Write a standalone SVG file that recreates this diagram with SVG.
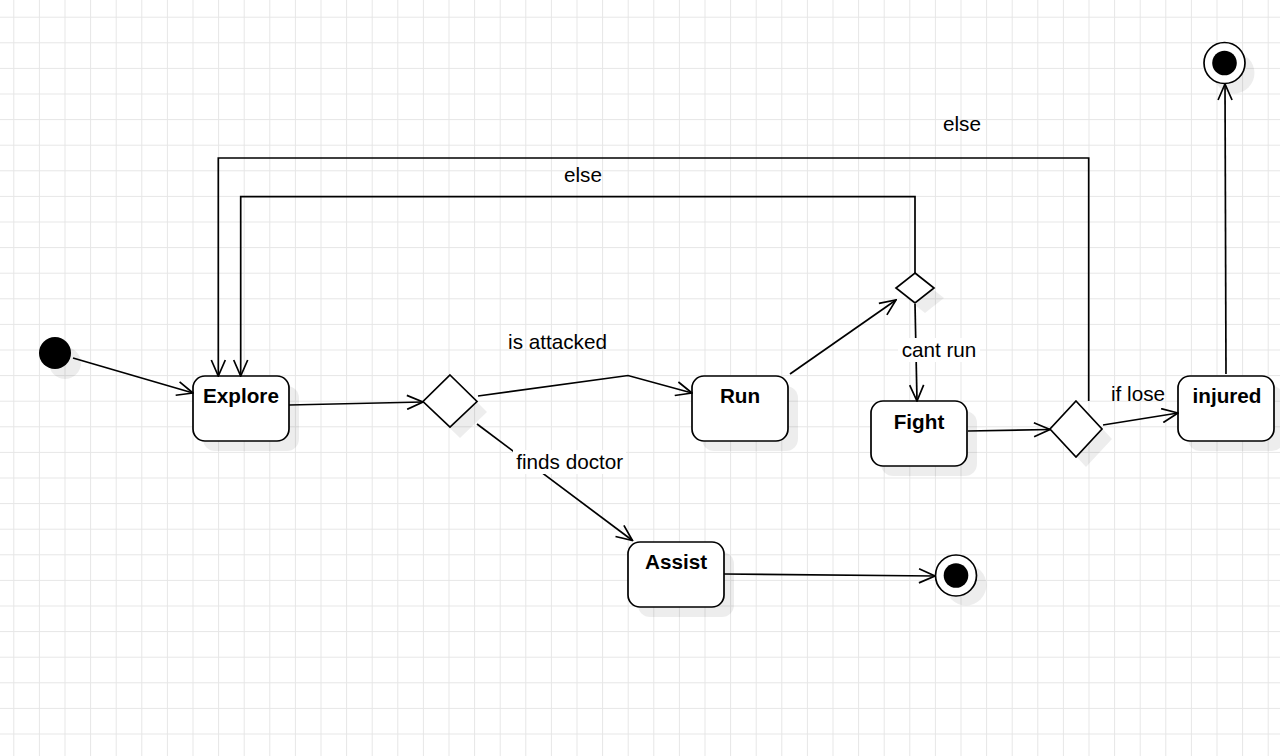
<svg xmlns="http://www.w3.org/2000/svg" width="1280" height="756" viewBox="0 0 1280 756">
<defs>
<pattern id="grid" patternUnits="userSpaceOnUse" x="13.3" y="16.7" width="25.6" height="25.6">
<path d="M0.5,0 V25.6 M0,0.5 H25.6" fill="none" stroke="#e6e6e6" stroke-width="1"/>
</pattern>
<marker id="arr" viewBox="0 0 18 16" refX="17" refY="8" markerWidth="18" markerHeight="16" markerUnits="userSpaceOnUse" orient="auto">
<path d="M1,1 L17,8 L1,15" fill="none" stroke="#000" stroke-width="1.7"/>
</marker>
</defs>
<style>
.state{fill:#fff;stroke:#000;stroke-width:1.7}
.shadow{fill:#000;fill-opacity:0.07;stroke:none}
.edge{fill:none;stroke:#000;stroke-width:1.7;marker-end:url(#arr)}
.t{font-family:"Liberation Sans",Arial,sans-serif;font-size:20.7px;fill:#000;text-anchor:middle}
.b{font-weight:bold}
</style>
<rect width="1280" height="756" fill="#fff"/>
<rect width="1280" height="756" fill="url(#grid)"/>

<g id="initial">
<circle class="shadow" cx="65" cy="363" r="16"/>
<circle cx="55" cy="353" r="16" fill="#000"/>
</g>
<g id="explore">
<rect class="shadow" x="203" y="386" width="96" height="65" rx="12"/>
<rect class="state" x="193" y="376" width="96" height="65" rx="12"/>
<text class="t b" x="241" y="403">Explore</text>
</g>
<g id="decision1">
<polygon class="shadow" points="460,385 487,412 460,438 433,412"/>
<polygon class="state" points="450,375 477,401.5 450,427 423,401.5"/>
</g>
<g id="run">
<rect class="shadow" x="702" y="386" width="96" height="65" rx="12"/>
<rect class="state" x="692" y="376" width="96" height="65" rx="12"/>
<text class="t b" x="740" y="403">Run</text>
</g>
<g id="decision-run">
<polygon class="shadow" points="925,283 944,298 925,313 906,298"/>
<polygon class="state" points="915,273 934,288 915,303 896,288"/>
</g>
<g id="fight">
<rect class="shadow" x="881" y="411" width="96" height="65" rx="12"/>
<rect class="state" x="871" y="401" width="96" height="65" rx="12"/>
<text class="t b" x="919" y="428.5">Fight</text>
</g>
<g id="decision2">
<polygon class="shadow" points="1086,411 1112,439 1086,467 1060,439"/>
<polygon class="state" points="1076,401 1102,429 1076,457 1050,429"/>
</g>
<g id="injured">
<rect class="shadow" x="1188" y="386" width="96" height="65" rx="12"/>
<rect class="state" x="1178" y="376" width="96" height="65" rx="12"/>
<text class="t b" x="1227" y="403">injured</text>
</g>
<g id="assist">
<rect class="shadow" x="638" y="552" width="96" height="65" rx="12"/>
<rect class="state" x="628" y="542" width="96" height="65" rx="12"/>
<text class="t b" x="676" y="569">Assist</text>
</g>
<g id="final-top">
<circle class="shadow" cx="1234" cy="73" r="20.5"/>
<circle class="state" cx="1224.5" cy="63" r="20.5"/>
<circle cx="1224.5" cy="63" r="12.3" fill="#000"/>
</g>
<g id="final-bottom">
<circle class="shadow" cx="966" cy="585" r="20.5"/>
<circle class="state" cx="956" cy="575.5" r="20.5"/>
<circle cx="956" cy="575.5" r="12.3" fill="#000"/>
</g>

<g id="connectors">
<path class="edge" d="M73,358 L193,393"/>
<path class="edge" d="M289,405 L423,402"/>
<path class="edge" d="M478,396 L628,375.5 L692,393"/>
<path class="edge" d="M477,424 L632.5,540.5"/>
<path class="edge" d="M790,374 L896,300"/>
<path class="edge" d="M915,304 L917,401"/>
<path class="edge" d="M915,273 V196.7 H240.7 V376"/>
<path class="edge" d="M1088.7,401 V158 H218.3 V376"/>
<path class="edge" d="M968,431 L1050,429.5"/>
<path class="edge" d="M1103,425 L1178,413"/>
<path class="edge" d="M1226,374 L1225,84"/>
<path class="edge" d="M724,574 L935,576"/>
</g>

<g id="labels">
<text class="t" x="557.5" y="349">is attacked</text>
<rect x="513" y="450" width="113" height="24" fill="#fff"/>
<text class="t" x="569.7" y="469">finds doctor</text>
<rect x="898" y="338" width="82" height="24" fill="#fff"/>
<text class="t" x="939" y="357">cant run</text>
<text class="t" x="583" y="182">else</text>
<text class="t" x="962" y="131">else</text>
<text class="t" x="1138" y="401">if lose</text>
</g>
</svg>
